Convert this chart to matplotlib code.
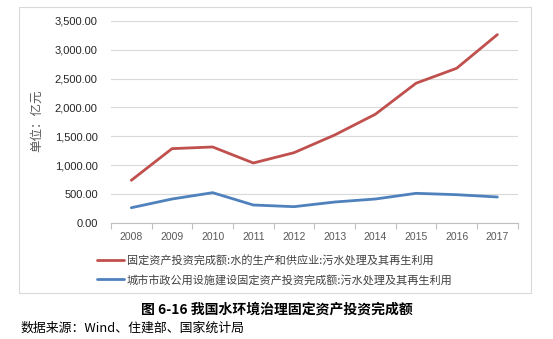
import matplotlib
matplotlib.use("Agg")
import matplotlib.pyplot as plt
from matplotlib.patches import Rectangle
from matplotlib.ticker import FuncFormatter, FixedLocator

plt.rcParams['font.family'] = ['Noto Sans CJK SC', 'DejaVu Sans']

years = ['2008', '2009', '2010', '2011', '2012', '2013', '2014', '2015', '2016', '2017']
water_supply = [736, 1285, 1314, 1036, 1215, 1522, 1882, 2420, 2680, 3264]
municipal = [260, 411, 521, 307, 278, 359, 411, 510, 486, 446]
label_red = '固定资产投资完成额:水的生产和供应业:污水处理及其再生利用'
label_blue = '城市市政公用设施建设固定资产投资完成额:污水处理及其再生利用'
y_ticks = [0, 500, 1000, 1500, 2000, 2500, 3000, 3500]

W, H = 553, 339
fig = plt.figure(figsize=(W / 100, H / 100), dpi=100)
fig.patch.set_facecolor('white')

# outer frame
fig.patches.append(Rectangle((19 / W, 1 - 293 / H), (531 - 19) / W, (293 - 7) / H,
                             transform=fig.transFigure, fill=False,
                             edgecolor='#d9d9d9', linewidth=0.8))

ax = fig.add_axes([111 / W, 1 - 222.7 / H, (517.7 - 111) / W, (222.7 - 21) / H])
x = list(range(len(years)))
ax.plot(x, water_supply, color='#C0504D', lw=2.0, label=label_red, solid_capstyle='round')
ax.plot(x, municipal, color='#4F81BD', lw=2.0, label=label_blue, solid_capstyle='round')

ax.set_xlim(-0.5, len(years) - 0.5)
ax.set_ylim(0, 3500)
ax.set_yticks(y_ticks)
ax.yaxis.set_major_formatter(FuncFormatter(lambda v, p: f'{v:,.2f}'))
ax.set_xticks(x)
ax.set_xticklabels(years)
ax.xaxis.set_minor_locator(FixedLocator([i - 0.5 for i in range(len(years) + 1)]))
ax.tick_params(axis='x', which='major', length=0, labelsize=7.5, labelcolor='#595959', pad=7)
ax.tick_params(axis='x', which='minor', length=4, color='#bfbfbf', width=0.8)
ax.tick_params(axis='y', length=0, labelsize=8, labelcolor='#262626', pad=9.5)
for lab in ax.get_xticklabels() + ax.get_yticklabels():
    lab.set_fontfamily('Liberation Sans')

ax.grid(axis='y', color='#d9d9d9', lw=0.8)
ax.set_axisbelow(True)
for s in ['top', 'right', 'left']:
    ax.spines[s].set_visible(False)
ax.spines['bottom'].set_color('#bfbfbf')
ax.spines['bottom'].set_linewidth(0.8)

fig.text(37 / W, 1 - 121 / H, '单位：亿元', rotation=90, ha='center', va='center',
         fontsize=9, color='#595959')

leg = fig.legend(loc='upper left', bbox_to_anchor=(97 / W, 1 - 254.5 / H), frameon=False,
                 fontsize=8, handlelength=2.45, handletextpad=0.25, labelspacing=0.8,
                 borderaxespad=0, borderpad=0)
for t in leg.get_texts():
    t.set_color('#404040')

fig.text(277 / W, 1 - 310 / H, '图 6-16 我国水环境治理固定资产投资完成额', ha='center',
         va='center', fontsize=10, fontweight='bold', color='black')
fig.text(20 / W, 1 - 328 / H, '数据来源：Wind、住建部、国家统计局', ha='left', va='center',
         fontsize=9.3, color='black')

fig.savefig('out.png', dpi=100)
